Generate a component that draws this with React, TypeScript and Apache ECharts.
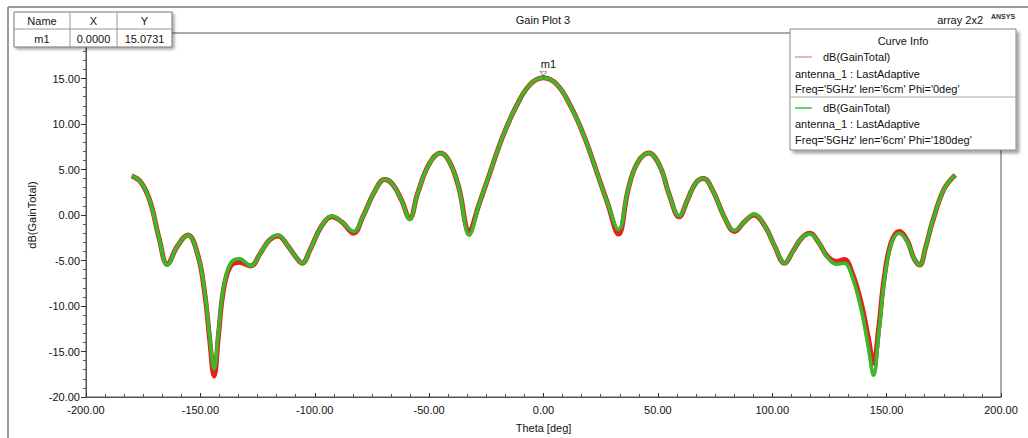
import React, { useEffect, useRef } from "react";
import * as echarts from "echarts";

const theta = [-180, -176, -172, -168, -164.5, -160, -155.5, -151, -148, -146, -144, -142, -140, -137, -133, -128, -124, -120, -116, -112, -108, -105.5, -102, -97, -92.5, -88, -83, -79, -74, -69.5, -66, -62, -58.5, -55, -50, -45, -41, -37, -32.5, -28, -24, -18, -12, -6, 0, 6, 12, 18, 24, 28, 32.8, 37, 41, 46, 51, 55, 59.3, 63, 66.5, 70, 74, 79, 83.5, 88, 92, 97, 101, 105.4, 109, 113, 116.5, 120, 124, 128, 131.5, 135, 139, 142, 144.3, 146.5, 149, 152, 155.5, 159, 162, 164.5, 167, 170, 175, 180];

const gainPhi0 = [4.3, 3.6, 1.5, -2.6, -5.4, -3.4, -2.2, -4.5, -8.8, -13.5, -17.7, -13, -8.4, -5.7, -5.2, -5.6, -4.3, -2.8, -2.3, -3.3, -4.7, -5.3, -3.8, -1.2, -0.2, -0.8, -2.0, -0.2, 2.5, 3.9, 3.4, 1.6, -0.4, 2.4, 5.6, 6.8, 5.8, 3.0, -1.7, 1.3, 4.2, 8.5, 11.9, 14.3, 15.07, 14.3, 11.9, 8.5, 4.2, 1.3, -2.1, 2.8, 5.7, 6.8, 5.3, 2.2, -0.2, 1.7, 3.5, 4.0, 2.7, -0.2, -1.8, -0.7, 0.0, -1.3, -3.4, -5.3, -4.0, -2.5, -2.0, -2.9, -4.5, -5.1, -4.9, -6.4, -9.8, -13.5, -16.3, -12.5, -6.8, -3.0, -1.8, -2.8, -4.8, -5.5, -3.6, -0.8, 2.8, 4.4];

const gainPhi180 = [4.3, 3.6, 1.5, -2.6, -5.5, -3.4, -2.2, -4.5, -8.6, -13.2, -16.9, -12.6, -8.2, -5.4, -4.8, -5.6, -4.3, -2.8, -2.2, -3.3, -4.7, -5.3, -3.8, -1.2, -0.1, -0.8, -1.8, -0.2, 2.5, 3.9, 3.4, 1.6, -0.5, 2.4, 5.6, 6.8, 5.8, 3.0, -2.2, 1.3, 4.2, 8.5, 11.9, 14.3, 15.07, 14.3, 11.9, 8.5, 4.2, 1.3, -1.6, 2.8, 5.7, 6.8, 5.3, 2.2, -0.1, 1.7, 3.5, 4.0, 2.7, -0.2, -1.7, -0.7, 0.1, -1.3, -3.4, -5.3, -4.0, -2.5, -2.1, -2.9, -4.6, -5.4, -5.3, -6.8, -10.5, -14.5, -17.6, -13.2, -7.2, -3.2, -2.0, -2.9, -4.8, -5.5, -3.6, -0.8, 2.8, 4.4];

const xTicks = [-200, 200, 50];
const yTicks = [-20, 20, 5];

const seriesNames = ["dB(GainTotal) Phi='0deg'", "dB(GainTotal) Phi='180deg'"];
const legendLines = [
  ["dB(GainTotal)", "antenna_1 : LastAdaptive", "Freq='5GHz' len='6cm' Phi='0deg'"],
  ["dB(GainTotal)", "antenna_1 : LastAdaptive", "Freq='5GHz' len='6cm' Phi='180deg'"],
];
const tableHeader = ["Name", "X", "Y"];
const tableRow = ["m1", "0.0000", "15.0731"];
const markerTheta = 0;
const markerGain = 15.07;

const FONT = "'Liberation Sans', Arial, sans-serif";

export default function App() {
  const ref = useRef<HTMLDivElement>(null);
  useEffect(() => {
    document.body.style.margin = "0";
    const chart = echarts.init(ref.current!, null, { renderer: "svg" });
    const d0 = theta.map((t, i) => [t, gainPhi0[i]]);
    const d1 = theta.map((t, i) => [t, gainPhi180[i]]);
    const txt = (x: number, y: number, text: string, extra: any = {}) => ({
      type: "text",
      x,
      y,
      z: 102,
      style: { text, fontSize: 11, fontFamily: FONT, fill: "#111", textVerticalAlign: "middle", ...extra },
    });
    const line = (x1: number, y1: number, x2: number, y2: number, stroke = "#666", lineWidth = 1) => ({
      type: "line",
      z: 101,
      shape: { x1, y1, x2, y2 },
      style: { stroke, lineWidth },
    });
    const graphics: any[] = [
      line(8, 7, 1028, 7, "#9a9a9a", 2),
      line(8, 7, 8, 438, "#9a9a9a", 2),
      txt(543, 20, "Gain Plot 3", { textAlign: "center" }),
      txt(983, 20, "array 2x2", { textAlign: "right" }),
      txt(991, 16, "ANSYS", { fontSize: 7, fontWeight: "bold", fill: "#333" }),
      // table
      {
        type: "rect",
        z: 100,
        shape: { x: 14, y: 12, width: 158, height: 35 },
        style: { fill: "#fff", stroke: "#777", lineWidth: 1, shadowBlur: 3, shadowOffsetX: 2, shadowOffsetY: 2, shadowColor: "rgba(0,0,0,0.35)" },
      },
      line(14, 29, 172, 29, "#999"),
      line(70, 12, 70, 47, "#999"),
      line(117, 12, 117, 47, "#999"),
      txt(42, 21, tableHeader[0], { textAlign: "center" }),
      txt(93.5, 21, tableHeader[1], { textAlign: "center" }),
      txt(144.5, 21, tableHeader[2], { textAlign: "center" }),
      txt(42, 38.5, tableRow[0], { textAlign: "center" }),
      txt(93.5, 38.5, tableRow[1], { textAlign: "center" }),
      txt(144.5, 38.5, tableRow[2], { textAlign: "center" }),
      // legend
      {
        type: "rect",
        z: 100,
        shape: { x: 790, y: 29, width: 226, height: 121 },
        style: { fill: "#fff", stroke: "#888", lineWidth: 1, shadowBlur: 3, shadowOffsetX: 3, shadowOffsetY: 3, shadowColor: "rgba(0,0,0,0.35)" },
      },
      txt(903, 41, "Curve Info", { textAlign: "center" }),
      line(790, 97, 1016, 97, "#aaa"),
      line(795, 57, 812, 57, "#e59aa5", 1.5),
      line(795, 108, 812, 108, "#3cc03c", 1.5),
      txt(823, 57, legendLines[0][0]),
      txt(795, 73.5, legendLines[0][1]),
      txt(795, 89, legendLines[0][2]),
      txt(823, 108, legendLines[1][0]),
      txt(795, 124, legendLines[1][1]),
      txt(795, 139.5, legendLines[1][2]),
    ];
    chart.setOption({
      animation: false,
      backgroundColor: "#fff",
      textStyle: { fontFamily: FONT },
      grid: { left: 86, right: 27, top: 33, bottom: 41, show: true, borderColor: "#555", borderWidth: 1 },
      xAxis: {
        type: "value",
        min: xTicks[0],
        max: xTicks[1],
        interval: xTicks[2],
        name: "Theta [deg]",
        nameLocation: "middle",
        nameGap: 25,
        nameTextStyle: { fontSize: 11, color: "#111", fontFamily: FONT },
        axisLine: { onZero: false, lineStyle: { color: "#555" } },
        axisTick: { inside: true, length: 4, lineStyle: { color: "#333" } },
        minorTick: { show: true, splitNumber: 6, length: 3, lineStyle: { color: "#555" } },
        splitLine: { show: false },
        axisLabel: { fontSize: 11, color: "#111", fontFamily: FONT, formatter: (v: number) => v.toFixed(2), margin: 7 },
      },
      yAxis: {
        type: "value",
        min: yTicks[0],
        max: yTicks[1],
        interval: yTicks[2],
        name: "dB(GainTotal)",
        nameLocation: "middle",
        nameGap: 46,
        nameTextStyle: { fontSize: 11, color: "#111", fontFamily: FONT },
        axisLine: { onZero: false, lineStyle: { color: "#555" } },
        axisTick: { inside: false, length: 5, lineStyle: { color: "#333" } },
        minorTick: { show: true, splitNumber: 5, length: 3, lineStyle: { color: "#555" } },
        splitLine: { show: false },
        axisLabel: {
          fontSize: 11,
          color: "#111",
          fontFamily: FONT,
          margin: 6,
          formatter: (v: number) => (v === yTicks[1] ? "" : v.toFixed(2)),
        },
      },
      series: [
        {
          name: seriesNames[0],
          type: "line",
          data: d0,
          smooth: 0.4,
          showSymbol: false,
          lineStyle: { color: "#e2231c", width: 5 },
          itemStyle: { color: "#e2231c" },
          z: 2,
        },
        {
          name: seriesNames[1],
          type: "line",
          data: d1,
          smooth: 0.4,
          showSymbol: false,
          lineStyle: { color: "#41b62c", width: 3.5, shadowColor: "rgba(60,80,20,0.6)", shadowBlur: 1 },
          itemStyle: { color: "#41b62c" },
          z: 3,
          markPoint: {
            symbol: "triangle",
            symbolRotate: 180,
            symbolSize: [6, 5],
            symbolOffset: [0, -4],
            itemStyle: { color: "rgba(0,0,0,0)", borderColor: "#333", borderWidth: 1, borderType: "dotted" },
            label: { show: true, position: "top", formatter: "m1", fontSize: 11, color: "#111", fontFamily: FONT, distance: 1, offset: [5, 0] },
            data: [{ coord: [markerTheta, markerGain] }],
          },
        },
      ],
      graphic: graphics,
    });
    return () => chart.dispose();
  }, []);
  return <div ref={ref} style={{ width: 1028, height: 438 }} />;
}
